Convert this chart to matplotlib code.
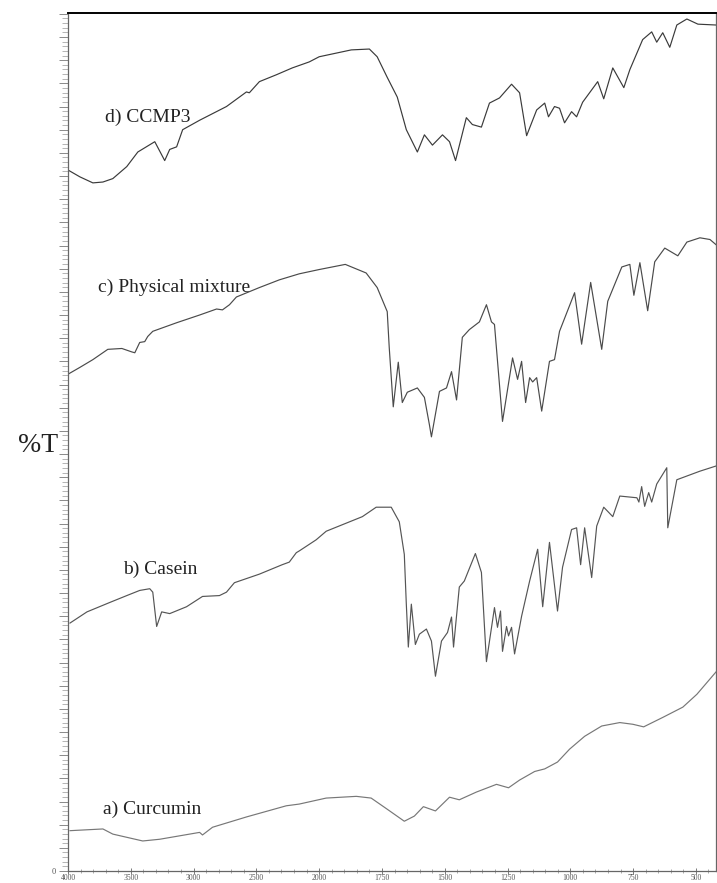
import numpy as np
import matplotlib
matplotlib.use("Agg")
import matplotlib.pyplot as plt
from matplotlib.ticker import FixedLocator, AutoMinorLocator

# wavenumber (cm-1) and %T
wn_d = [4000, 3905, 3802, 3722, 3643, 3532, 3444, 3309, 3230, 3190, 3135, 3087, 2952, 2738,
        2579, 2556, 2476, 2341, 2214, 2079, 2000, 1872, 1800, 1769, 1729, 1689, 1653, 1609,
        1581, 1549, 1509, 1481, 1457, 1414, 1390, 1354, 1322, 1282, 1234, 1202, 1174, 1134,
        1102, 1087, 1063, 1043, 1023, 995, 975, 951, 891, 867, 831, 787, 763, 712, 676, 656,
        632, 604, 576, 536, 492, 420]
t_d = [81.7, 80.9, 80.2, 80.3, 80.7, 82.1, 83.8, 85.0, 82.8, 84.1, 84.4, 86.4, 87.5, 89.1,
       90.8, 90.7, 92.0, 92.8, 93.6, 94.3, 94.9, 95.7, 95.8, 94.9, 92.5, 90.2, 86.4, 83.8,
       85.8, 84.6, 85.8, 85.0, 82.8, 87.8, 87.0, 86.7, 89.5, 90.1, 91.7, 90.7, 85.7, 88.7,
       89.5, 87.9, 89.1, 88.9, 87.2, 88.5, 87.9, 89.6, 92.0, 90.0, 93.6, 91.3, 93.4, 96.9,
       97.8, 96.6, 97.7, 96.0, 98.6, 99.3, 98.7, 98.6]

wn_c = [4000, 3905, 3802, 3683, 3571, 3492, 3468, 3429, 3389, 3365, 3325, 3135, 2952, 2817,
        2770, 2714, 2659, 2476, 2317, 2159, 2000, 1896, 1813, 1769, 1729, 1721, 1705, 1685,
        1669, 1649, 1609, 1581, 1561, 1553, 1521, 1493, 1473, 1453, 1430, 1402, 1362, 1334,
        1314, 1302, 1270, 1230, 1210, 1194, 1178, 1162, 1150, 1134, 1114, 1083, 1063, 1043,
        983, 955, 919, 875, 851, 795, 763, 747, 723, 692, 664, 624, 572, 536, 484, 444, 420]
t_c = [57.9, 58.7, 59.6, 60.8, 60.9, 60.5, 60.4, 61.6, 61.7, 62.3, 62.9, 63.9, 64.8, 65.5,
       65.4, 66.0, 66.9, 68.0, 68.9, 69.6, 70.1, 70.7, 69.7, 68.0, 65.2, 61.0, 54.1, 59.3,
       54.6, 55.8, 56.3, 55.2, 52.0, 50.6, 55.9, 56.3, 58.2, 54.9, 62.2, 63.1, 64.0, 66.0,
       64.0, 63.7, 52.4, 59.8, 57.3, 59.4, 54.6, 57.5, 57.0, 57.5, 53.6, 59.4, 59.6, 62.9,
       67.4, 61.4, 68.6, 60.8, 66.4, 70.4, 70.7, 67.1, 70.9, 65.3, 71.0, 72.6, 71.7, 73.3,
       73.8, 73.6, 73.0]

wn_b = [3984, 3849, 3667, 3532, 3429, 3349, 3325, 3294, 3254, 3190, 3056, 2929, 2794, 2738,
        2698, 2675, 2476, 2294, 2238, 2182, 2159, 2024, 1972, 1828, 1773, 1713, 1681, 1661,
        1653, 1645, 1633, 1617, 1601, 1573, 1553, 1537, 1513, 1489, 1473, 1465, 1442, 1422,
        1378, 1354, 1334, 1302, 1290, 1278, 1270, 1254, 1246, 1234, 1222, 1194, 1162, 1130,
        1110, 1083, 1051, 1031, 995, 975, 959, 943, 915, 895, 867, 831, 803, 735, 727, 716,
        704, 688, 676, 656, 616, 612, 576, 484, 420]
t_b = [28.9, 30.2, 31.3, 32.1, 32.7, 32.9, 32.5, 28.5, 30.2, 30.0, 30.8, 32.0, 32.1, 32.5,
       33.2, 33.6, 34.6, 35.7, 36.0, 37.1, 37.3, 38.6, 39.6, 41.3, 42.4, 42.4, 40.7, 36.9,
       31.1, 26.1, 31.1, 26.4, 27.6, 28.2, 26.8, 22.7, 26.8, 27.8, 29.6, 26.1, 33.1, 33.8,
       37.0, 34.8, 24.4, 30.7, 28.4, 30.3, 25.6, 28.5, 27.4, 28.4, 25.3, 29.7, 33.8, 37.5,
       30.8, 38.3, 30.3, 35.4, 39.8, 40.0, 35.7, 40.0, 34.2, 40.2, 42.4, 41.3, 43.7, 43.5,
       43.0, 44.8, 42.5, 44.1, 43.0, 45.1, 47.0, 40.0, 45.6, 46.6, 47.2]

wn_a = [3984, 3722, 3643, 3405, 3270, 2952, 2929, 2849, 2579, 2262, 2159, 1972, 1852, 1793,
        1729, 1661, 1621, 1585, 1537, 1481, 1442, 1374, 1294, 1246, 1202, 1142, 1102, 1051,
        1003, 943, 875, 803, 751, 708, 632, 552, 496, 420]
t_a = [4.7, 4.9, 4.3, 3.5, 3.7, 4.5, 4.2, 5.1, 6.3, 7.6, 7.8, 8.5, 8.7, 8.5,
       7.2, 5.8, 6.4, 7.5, 7.0, 8.6, 8.3, 9.2, 10.1, 9.7, 10.6, 11.6, 11.9, 12.7,
       14.2, 15.7, 16.9, 17.3, 17.1, 16.8, 17.9, 19.1, 20.6, 23.2]

labels = ["d) CCMP3", "c) Physical mixture", "b) Casein", "a) Curcumin"]
label_wn = [3706, 3762, 3563, 3722]
label_t = [87.8, 68.0, 35.2, 7.2]

major_x = [4000, 3500, 3000, 2500, 2000, 1750, 1500, 1250, 1000, 750, 500]
minor_x = list(range(3900, 2000, -100)) + list(range(1950, 400, -50))


def fwd(w):
    w = np.asarray(w, dtype=float)
    return np.where(w >= 2000, w, 2 * w - 2000)


def inv(v):
    v = np.asarray(v, dtype=float)
    return np.where(v >= 2000, v, (v + 2000) / 2)


plt.rcParams["font.family"] = ["Liberation Serif", "DejaVu Serif"]

fig = plt.figure(figsize=(7.17, 8.83), dpi=100)
ax = fig.add_axes([68 / 717, 12 / 883, 648 / 717, 858 / 883])
ax.set_xscale("function", functions=(fwd, inv))

ax.plot(wn_d, t_d, color="#3a3a3a", lw=0.85)
ax.plot(wn_c, t_c, color="#4a4a4a", lw=0.85)
ax.plot(wn_b, t_b, color="#555555", lw=0.85)
ax.plot(wn_a, t_a, color="#777777", lw=0.85)

for lab, x, y in zip(labels, label_wn, label_t):
    ax.text(x, y, lab, fontsize=14, color="#222222", va="center", ha="left")

ax.set_xlim(4000, 420)
ax.set_ylim(0, 100)

ax.xaxis.set_major_locator(FixedLocator(major_x))
ax.xaxis.set_minor_locator(FixedLocator(minor_x))
ax.set_xticklabels([str(v) for v in major_x])
ax.tick_params(axis="x", which="major", direction="inout", length=4, width=0.6,
               color="#666666", labelsize=5.5, labelcolor="#555555", pad=0)
ax.tick_params(axis="x", which="minor", direction="inout", length=3, width=0.5,
               color="#888888")

yt = np.arange(0, 100, 2.7)
ax.set_yticks(yt)
ax.set_yticklabels(["0"] + [""] * (len(yt) - 1))
ax.yaxis.set_minor_locator(AutoMinorLocator(5))
ax.tick_params(axis="y", which="major", direction="out", length=6.5, width=0.6,
               color="#777777", labelsize=6, labelcolor="#555555", pad=2)
ax.tick_params(axis="y", which="minor", direction="out", length=4, width=0.5,
               color="#999999")

ax.spines["top"].set_color("black")
ax.spines["top"].set_linewidth(1.4)
for s in ["left", "bottom", "right"]:
    ax.spines[s].set_color("#666666")
    ax.spines[s].set_linewidth(0.9)

fig.text(18 / 717, 1 - 445 / 883, "%T", fontsize=20, ha="left", va="center", color="#222222")

fig.savefig("out.png", dpi=100)
